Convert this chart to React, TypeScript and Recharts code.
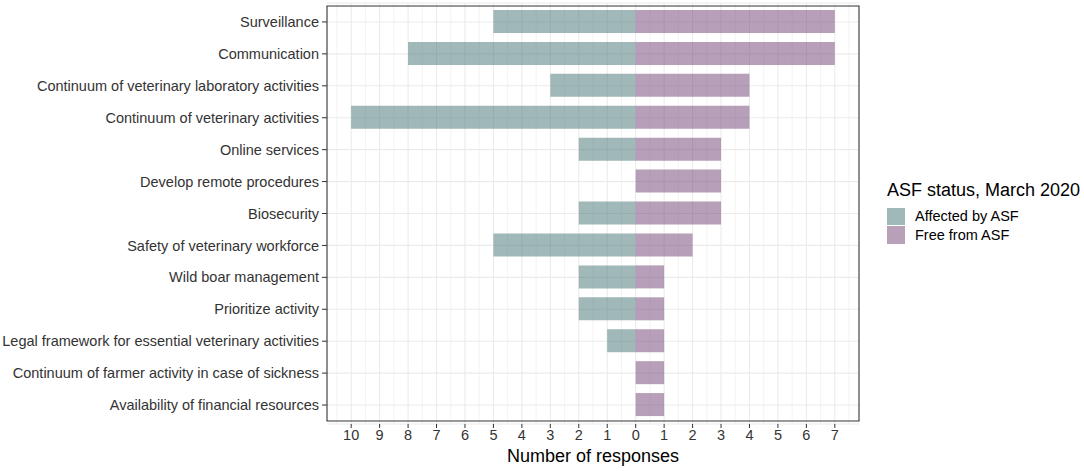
import { Bar, BarChart, CartesianGrid, ReferenceArea, XAxis, YAxis } from "recharts";

const FONT = "'Liberation Sans', Arial, sans-serif";

const categories = [
  "Surveillance",
  "Communication",
  "Continuum of veterinary laboratory activities",
  "Continuum of veterinary activities",
  "Online services",
  "Develop remote procedures",
  "Biosecurity",
  "Safety of veterinary workforce",
  "Wild boar management",
  "Prioritize activity",
  "Legal framework for essential veterinary activities",
  "Continuum of farmer activity in case of sickness",
  "Availability of financial resources",
];

// responses from countries affected by ASF (drawn to the left)
const affected = [5, 8, 3, 10, 2, 0, 2, 5, 2, 2, 1, 0, 0];
// responses from countries free from ASF (drawn to the right)
const free = [7, 7, 4, 4, 3, 3, 3, 2, 1, 1, 1, 1, 1];

const xTicks = [-10, -9, -8, -7, -6, -5, -4, -3, -2, -1, 0, 1, 2, 3, 4, 5, 6, 7];
const xMinor = [
  -10.5, -9.5, -8.5, -7.5, -6.5, -5.5, -4.5, -3.5, -2.5, -1.5, -0.5,
  0.5, 1.5, 2.5, 3.5, 4.5, 5.5, 6.5, 7.5,
];
const xDomain = [-10.85, 7.85];

const legendItems = [
  { label: "Affected by ASF", color: "#a0b8b8" },
  { label: "Free from ASF", color: "#b8a0b9" },
];

const data = categories.map((name, i) => ({
  name,
  affected: -affected[i],
  free: free[i],
}));

const App = () => {
  return (
    <div style={{ position: "absolute", left: 0, top: 0, width: 1084, height: 471, background: "#fff" }}>
      <BarChart
        width={1084}
        height={471}
        data={data}
        layout="vertical"
        stackOffset="sign"
        margin={{ top: 3, right: 225, bottom: 0, left: 0 }}
      >
        <CartesianGrid
          horizontal={false}
          verticalValues={xMinor}
          stroke="#ebebeb"
          strokeWidth={0.6}
        />
        <CartesianGrid
          verticalValues={xTicks}
          stroke="#ebebeb"
          strokeWidth={1.1}
        />
        <XAxis
          type="number"
          domain={xDomain}
          ticks={xTicks}
          allowDataOverflow
          interval={0}
          tickFormatter={(v: number) => `${Math.abs(v)}`}
          tick={{ fill: "#333", fontSize: 14.5, fontFamily: FONT }}
          tickSize={4}
          tickMargin={2}
          tickLine={{ stroke: "#333" }}
          axisLine={false}
          height={47}
          label={{
            value: "Number of responses",
            position: "insideBottom",
            offset: 9,
            fill: "#000",
            fontSize: 18,
            fontFamily: FONT,
          }}
        />
        <YAxis
          type="category"
          dataKey="name"
          width={327}
          interval={0}
          padding={{ top: 3, bottom: 3 }}
          tick={{ fill: "#333", fontSize: 14.5, fontFamily: FONT }}
          tickSize={5}
          tickMargin={3}
          tickLine={{ stroke: "#333" }}
          axisLine={false}
        />
        <Bar
          dataKey="affected"
          stackId="s"
          barSize={23}
          fill="#417171"
          fillOpacity={0.5}
          isAnimationActive={false}
        />
        <Bar
          dataKey="free"
          stackId="s"
          barSize={23}
          fill="#714073"
          fillOpacity={0.5}
          isAnimationActive={false}
        />
        <ReferenceArea
          x1={xDomain[0]}
          x2={xDomain[1]}
          fill="none"
          stroke="#333"
          strokeWidth={1.1}
          ifOverflow="visible"
        />
      </BarChart>
      <div style={{ position: "absolute", left: 887, top: 180, fontFamily: FONT, color: "#000" }}>
        <div style={{ fontSize: 18, lineHeight: "21px", marginBottom: 6 }}>ASF status, March 2020</div>
        {legendItems.map((item) => (
          <div key={item.label} style={{ display: "flex", alignItems: "center", height: 18.5 }}>
            <div style={{ width: 17.5, height: 17.5, background: item.color, marginRight: 10.5 }} />
            <span style={{ fontSize: 14.5 }}>{item.label}</span>
          </div>
        ))}
      </div>
    </div>
  );
};

export default App;
